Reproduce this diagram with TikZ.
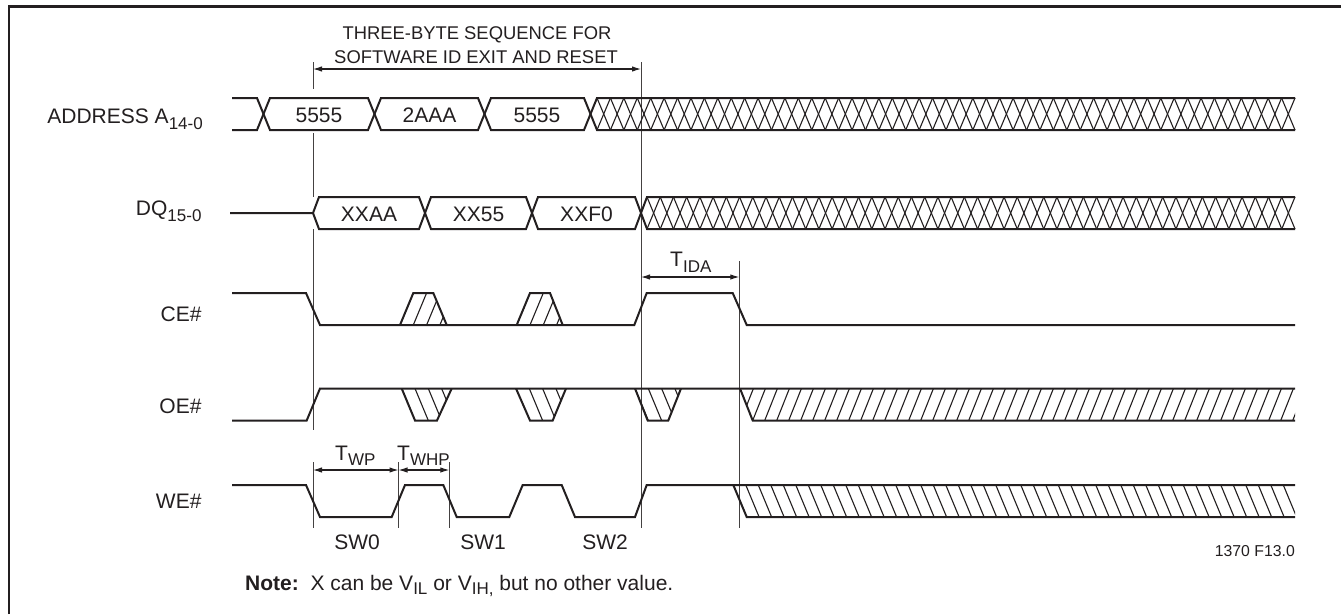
\documentclass[tikz,border=0pt]{standalone}
\usepackage{fontspec}
\setmainfont{Liberation Sans}
\usetikzlibrary{arrows.meta}
\definecolor{ink}{RGB}{35,31,32}
\newcommand{\sbs}[2][5.5pt]{\raisebox{-#1}{\fontsize{17}{17}\selectfont #2}}
\begin{document}
\begin{tikzpicture}[x=1pt,y=-1pt,
  sig/.style={draw=ink,line width=2pt,line join=miter},
  hat/.style={draw=ink,line width=1.1pt},
  refl/.style={draw=ink!85,line width=1pt},
  dim/.style={draw=ink,line width=1.1pt,{Latex[length=9pt,width=5.5pt]}-{Latex[length=9pt,width=5.5pt]}},
  lab/.style={font=\fontsize{21}{24}\selectfont,inner sep=0pt,anchor=base east,text=ink},
  val/.style={font=\fontsize{21}{24}\selectfont,inner sep=0pt,anchor=base,text=ink},
  tlab/.style={font=\fontsize{21}{24}\selectfont,inner sep=0pt,anchor=base west,text=ink},
  ttl/.style={font=\fontsize{18.4}{22}\selectfont,inner sep=0pt,anchor=base,text=ink},
]
\useasboundingbox (0,0) rectangle (1341,614);
\fill[white] (0,0) rectangle (1341,614);
\draw[ink,line width=2.5pt] (9,614) -- (9,6.7) -- (1341,6.7);

% ---------- reference lines ----------
\draw[refl] (313,62) -- (313,89);
\draw[refl] (313,133) -- (313,197);
\draw[refl] (313,229) -- (313,430);
\draw[refl] (313,462) -- (313,528);
\draw[refl] (641,62) -- (641,528);
\draw[refl] (739.3,261) -- (739.3,528);
\draw[refl] (398.5,462) -- (398.5,528);
\draw[refl] (449.3,462) -- (449.3,528);

% ---------- dimension arrows ----------
\coordinate (sq0) at (313,69);   \coordinate (sq1) at (641,69);
\coordinate (ida0) at (641,277); \coordinate (ida1) at (739.3,277);
\coordinate (wp0) at (313,470);  \coordinate (wp1) at (398.5,470);
\coordinate (whp1) at (449.3,470);
\draw[dim] (sq0) -- (sq1);
\draw[dim] (ida0) -- (ida1);
\draw[dim] (wp0) -- (wp1);
\draw[dim] (wp1) -- (whp1);

\node[ttl] (t1) at (477,39.5) {THREE-BYTE SEQUENCE FOR};
\node[ttl] (t2) at (476,63.3) {SOFTWARE ID EXIT AND RESET};
\node[tlab] (tida) at (670,266.7) {T\sbs{IDA}};
\node[tlab] (twp) at (335,460) {T\sbs{WP}};
\node[tlab] (twhp) at (397,460) {T\sbs{WHP}};

% ---------- signal labels ----------
\node[lab] (laddr) at (203,123.3) {ADDRESS A\sbs[6.5pt]{14-0}};
\node[lab] (ldq) at (201.7,215) {DQ\sbs[6.5pt]{15-0}};
\node[lab] (lce) at (201.7,321.7) {CE\#};
\node[lab] (loe) at (201.7,413.3) {OE\#};
\node[lab] (lwe) at (201.7,508.3) {WE\#};

% ---------- ADDRESS ----------
\draw[sig] (232,98) -- (257,98) -- (270,130) -- (368,130) -- (381,98) -- (478,98) -- (491,130) -- (584,130) -- (597,98) -- (1295,98);
\draw[sig] (232,130) -- (257,130) -- (270,98) -- (368,98) -- (381,130) -- (478,130) -- (491,98) -- (584,98) -- (597,130) -- (1295,130);
\foreach \k in {0,...,51} {
  \draw[hat] ({597+\k*13.423},98) -- ({597+(\k+1)*13.423},130);
  \draw[hat] ({597+\k*13.423},130) -- ({597+(\k+1)*13.423},98);
}
\node[val] (a1) at (319,122.5) {5555};
\node[val] (a2) at (429.5,122.5) {2AAA};
\node[val] (a3) at (537,122.5) {5555};

% ---------- DQ ----------
\draw[sig] (230,213) -- (313,213) -- (319,197) -- (419,197) -- (431,229) -- (526,229) -- (538,197) -- (635,197) -- (647,229) -- (1295,229);
\draw[sig] (313,213) -- (319,229) -- (419,229) -- (431,197) -- (526,197) -- (538,229) -- (635,229) -- (647,197) -- (1295,197);
\foreach \k in {0,...,48} {
  \draw[hat] ({647+\k*13.224},197) -- ({647+(\k+1)*13.224},229);
  \draw[hat] ({647+\k*13.224},229) -- ({647+(\k+1)*13.224},197);
}
\node[val] (d1) at (369,221.7) {XXAA};
\node[val] (d2) at (478.5,221.7) {XX55};
\node[val] (d3) at (586.5,221.7) {XXF0};

% ---------- CE# ----------
\begin{scope}
  \clip (400,325) -- (413.3,293) -- (433.3,293) -- (446.7,325) -- cycle;
  \foreach \k in {0,...,4} \draw[hat] ({400+13.3*\k},325) -- ++(13.3,-32);
\end{scope}
\begin{scope}
  \clip (516.7,325) -- (530,293) -- (550,293) -- (562.7,325) -- cycle;
  \foreach \k in {0,...,4} \draw[hat] ({516.7+13.3*\k},325) -- ++(13.3,-32);
\end{scope}
\draw[sig] (232,293) -- (306,293) -- (320,325) -- (634.3,325) -- (646.7,293) -- (732.7,293) -- (746.7,325) -- (1295,325);
\draw[sig] (400,325) -- (413.3,293) -- (433.3,293) -- (446.7,325);
\draw[sig] (516.7,325) -- (530,293) -- (550,293) -- (562.7,325);

% ---------- OE# ----------
\begin{scope}
  \clip (401.7,388.5) -- (415,420.5) -- (437,420.5) -- (451.7,388.5) -- cycle;
  \foreach \k in {0,...,4} \draw[hat] ({401.7+13.3*\k},388.5) -- ++(13.3,32);
\end{scope}
\begin{scope}
  \clip (516,388.5) -- (530,420.5) -- (552.7,420.5) -- (566,388.5) -- cycle;
  \foreach \k in {0,...,4} \draw[hat] ({516+13.3*\k},388.5) -- ++(13.3,32);
\end{scope}
\begin{scope}
  \clip (635,388.5) -- (647.7,420.5) -- (668.3,420.5) -- (681,388.5) -- cycle;
  \foreach \k in {0,...,4} \draw[hat] ({635+13.3*\k},388.5) -- ++(13.3,32);
\end{scope}
\begin{scope}
  \clip (740,388.5) -- (1295,388.5) -- (1295,420.5) -- (752.7,420.5) -- cycle;
  \foreach \k in {-1,...,47} \draw[hat] ({752.7+12*\k},420.5) -- ++(12.7,-32);
\end{scope}
\draw[sig] (232,420.5) -- (306.7,420.5) -- (320,388.5) -- (1295,388.5);
\draw[sig] (401.7,388.5) -- (415,420.5) -- (437,420.5) -- (451.7,388.5);
\draw[sig] (516,388.5) -- (530,420.5) -- (552.7,420.5) -- (566,388.5);
\draw[sig] (635,388.5) -- (647.7,420.5) -- (668.3,420.5) -- (681,388.5);
\draw[sig] (740,388.5) -- (752.7,420.5) -- (1295,420.5);

% ---------- WE# ----------
\begin{scope}
  \clip (733.3,485) -- (1295,485) -- (1295,517) -- (746.7,517) -- cycle;
  \foreach \k in {0,...,46} \draw[hat] ({733.3+12.5*\k},485) -- ++(13.3,32);
\end{scope}
\draw[sig] (232,485) -- (306,485) -- (320,517) -- (391.7,517) -- (405,485) -- (443.3,485) -- (456.7,517) -- (509.3,517) -- (522.7,485) -- (561.7,485) -- (575,517) -- (635,517) -- (646.7,485) -- (1295,485);
\draw[sig] (733.3,485) -- (746.7,517) -- (1295,517);

\node[val] (sw0) at (357,549) {SW0};
\node[val] (sw1) at (483,549) {SW1};
\node[val] (sw2) at (605,549) {SW2};

\node[font=\fontsize{15.8}{18}\selectfont,inner sep=0pt,anchor=base east,text=ink] (fig) at (1295,556.3) {1370 F13.0};
\node[font=\fontsize{21}{24}\selectfont,inner sep=0pt,anchor=base west,text=ink] (note) at (245,590) {\textbf{Note:}\ \ X can be V\sbs[4pt]{IL} or V\sbs[4pt]{IH,} but no other value.};
\end{tikzpicture}
\end{document}
